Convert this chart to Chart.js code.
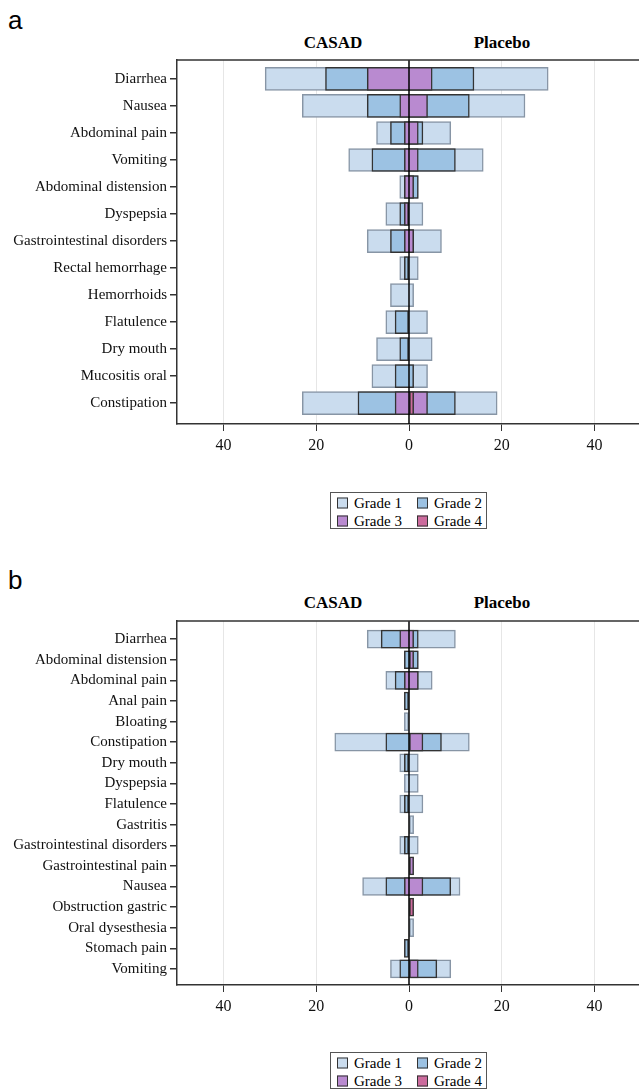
<!DOCTYPE html>
<html lang="en">
<head>
<meta charset="UTF-8">
<title>Gastrointestinal adverse events</title>
<script src="https://cdn.jsdelivr.net/npm/chart.js"></script>
<style>
  html, body { margin: 0; padding: 0; background: #fff; overflow: hidden; }
  .panel { position: absolute; left: 0; width: 642px; height: 560px; }
  .tag { position: absolute; left: 8px; top: 20px; transform: translateY(-50%);
         font: 26px "Liberation Sans", Arial, sans-serif; color: #000; }
  .grp { position: absolute; top: 43px; transform: translate(-50%, -50%);
         font: bold 17px "Liberation Serif", "Times New Roman", serif; color: #000; }
  .chartbox { position: absolute; left: 0; top: 0; width: 642px; height: 470px; }
  .legend { position: absolute; left: 330px; top: 492px; width: 155px; height: 35px;
            border: 1px solid #555; }
  .item { position: absolute; font: 15px "Liberation Serif", "Times New Roman", serif;
          color: #000; transform: translateY(-50%); white-space: nowrap; }
  .sw { position: absolute; width: 9px; height: 9px; border: 1px solid #333;
        transform: translateY(-50%); }
</style>
</head>
<body>

<div class="panel" style="top:0">
  <div class="tag">a</div>
  <div class="grp" style="left:333px">CASAD</div>
  <div class="grp" style="left:502px">Placebo</div>
  <div class="chartbox"><canvas id="chartA"></canvas></div>
  <div class="legend" id="legendA"></div>
</div>

<div class="panel" style="top:560px">
  <div class="tag">b</div>
  <div class="grp" style="left:333px">CASAD</div>
  <div class="grp" style="left:502px">Placebo</div>
  <div class="chartbox" style="height:471px"><canvas id="chartB"></canvas></div>
  <div class="legend" id="legendB"></div>
</div>

<script>
// ---- panel a ----
const aCats = ['Diarrhea', 'Nausea', 'Abdominal pain', 'Vomiting', 'Abdominal distension',
  'Dyspepsia', 'Gastrointestinal disorders', 'Rectal hemorrhage', 'Hemorrhoids',
  'Flatulence', 'Dry mouth', 'Mucositis oral', 'Constipation'];
const aCasadG1 = [31, 23, 7, 13, 2, 5, 9, 2, 4, 5, 7, 8, 23];
const aCasadG2 = [18, 9, 4, 8, 1, 2, 4, 1, 0, 3, 2, 3, 11];
const aCasadG3 = [9, 2, 1, 1, 1, 1, 1, 0, 0, 0, 0, 0, 3];
const aCasadG4 = [0, 0, 0, 0, 0, 0, 0, 0, 0, 0, 0, 0, 0];
const aPlaceboG1 = [30, 25, 9, 16, 2, 3, 7, 2, 1, 4, 5, 4, 19];
const aPlaceboG2 = [14, 13, 3, 10, 2, 0, 1, 0, 0, 0, 0, 1, 10];
const aPlaceboG3 = [5, 4, 2, 2, 1, 0, 1, 0, 0, 0, 0, 0, 4];
const aPlaceboG4 = [0, 0, 0, 0, 0, 0, 0, 0, 0, 0, 0, 0, 1];

// ---- panel b ----
const bCats = ['Diarrhea', 'Abdominal distension', 'Abdominal pain', 'Anal pain', 'Bloating',
  'Constipation', 'Dry mouth', 'Dyspepsia', 'Flatulence', 'Gastritis',
  'Gastrointestinal disorders', 'Gastrointestinal pain', 'Nausea', 'Obstruction gastric',
  'Oral dysesthesia', 'Stomach pain', 'Vomiting'];
const bCasadG1 = [9, 1, 5, 0, 1, 16, 2, 1, 2, 0, 2, 0, 10, 0, 0, 0, 4];
const bCasadG2 = [6, 1, 3, 1, 0, 5, 1, 0, 1, 0, 1, 0, 5, 0, 0, 1, 2];
const bCasadG3 = [2, 0, 1, 0, 0, 0, 0, 0, 0, 0, 0, 0, 1, 0, 0, 0, 0];
const bCasadG4 = [0, 0, 0, 0, 0, 0, 0, 0, 0, 0, 0, 0, 0, 0, 0, 0, 0];
const bPlaceboG1 = [10, 2, 5, 0, 0, 13, 2, 2, 3, 1, 2, 0, 11, 0, 1, 0, 9];
const bPlaceboG2 = [2, 2, 2, 0, 0, 7, 0, 0, 0, 0, 0, 0, 9, 0, 0, 0, 6];
const bPlaceboG3 = [1, 1, 2, 0, 0, 3, 0, 0, 0, 0, 0, 1, 3, 0, 0, 0, 2];
const bPlaceboG4 = [0, 0, 0, 0, 0, 0, 0, 0, 0, 0, 0, 0, 0, 1, 0, 0, 0];

const xTicks = [-40, -20, 0, 20, 40];
const gradeNames = ['Grade 1', 'Grade 2', 'Grade 3', 'Grade 4'];
const gradeFill = ['#cadcee', '#9cc2e3', '#b98ad0', '#cc6b9d'];
const gradeLine = ['#8795a5', '#333333', '#333333', '#333333'];

const serif = '"Liberation Serif", "Times New Roman", serif';

// zero line + top frame, drawn over the bars
const framePlugin = {
  id: 'frame',
  afterDatasetsDraw(chart) {
    const { ctx, chartArea: a, scales: { x } } = chart;
    const x0 = x.getPixelForValue(0);
    ctx.save();
    ctx.strokeStyle = '#000';
    ctx.lineWidth = 1.5;
    ctx.beginPath();
    ctx.moveTo(x0, a.top);
    ctx.lineTo(x0, a.bottom);
    ctx.stroke();
    ctx.strokeStyle = '#333';
    ctx.beginPath();
    ctx.moveTo(a.left, a.top);
    ctx.lineTo(a.right, a.top);
    ctx.lineTo(a.right, a.bottom);
    ctx.stroke();
    ctx.restore();
  }
};

function makeChart(id, cats, casad, placebo, yMin, yMax, barPx, padTop) {
  // grade 1 drawn first (highest order), grade 4 on top
  const datasets = gradeNames.map((name, g) => ({
    label: name,
    order: 3 - g,
    data: cats.map((c, i) => ({ y: i, x: [-casad[g][i], placebo[g][i]] }))
              .filter(d => d.x[0] !== 0 || d.x[1] !== 0),
    backgroundColor: gradeFill[g],
    borderColor: gradeLine[g],
    borderWidth: 1.5,
    borderSkipped: false,
    barThickness: barPx,
    grouped: false
  }));

  return new Chart(document.getElementById(id), {
    type: 'bar',
    data: { datasets },
    options: {
      indexAxis: 'y',
      responsive: true,
      maintainAspectRatio: false,
      animation: false,
      events: [],
      layout: { padding: { top: padTop, right: 1, left: 0, bottom: 0 } },
      plugins: { legend: { display: false }, tooltip: { enabled: false } },
      scales: {
        x: {
          type: 'linear',
          min: -50,
          max: 50,
          afterBuildTicks: s => { s.ticks = xTicks.map(v => ({ value: v })); },
          afterFit: s => { s.height = 46; },
          ticks: {
            callback: v => Math.abs(v),
            color: '#111',
            padding: 5,
            font: { family: serif, size: 16 }
          },
          grid: {
            color: ctx => (ctx.tick && ctx.tick.value === 0) ? 'rgba(0,0,0,0)' : '#e6e6e6',
            tickColor: '#333',
            tickLength: 7,
            lineWidth: 1
          },
          border: { display: true, color: '#333', width: 1.5 }
        },
        y: {
          type: 'linear',
          reverse: true,
          offset: false,
          min: yMin,
          max: yMax,
          afterBuildTicks: s => { s.ticks = cats.map((c, i) => ({ value: i })); },
          afterFit: s => { s.width = 177; },
          ticks: {
            callback: v => cats[v],
            color: '#111',
            padding: 3,
            autoSkip: false,
            font: { family: serif, size: 15 }
          },
          grid: {
            offset: false,
            drawOnChartArea: false,
            tickColor: '#333',
            tickLength: 7,
            lineWidth: 1.5
          },
          border: { display: true, color: '#333', width: 1.5 }
        }
      }
    },
    plugins: [framePlugin]
  });
}

function makeLegend(id) {
  const box = document.getElementById(id);
  const spots = [[6, 10], [86, 10], [6, 28], [86, 28]];
  gradeNames.forEach((name, g) => {
    const sw = document.createElement('div');
    sw.className = 'sw';
    sw.style.left = spots[g][0] + 'px';
    sw.style.top = spots[g][1] + 'px';
    sw.style.background = gradeFill[g];
    box.appendChild(sw);
    const t = document.createElement('div');
    t.className = 'item';
    t.style.left = (spots[g][0] + 17) + 'px';
    t.style.top = spots[g][1] + 'px';
    t.textContent = name;
    box.appendChild(t);
  });
}

makeChart('chartA', aCats,
  [aCasadG1, aCasadG2, aCasadG3, aCasadG4],
  [aPlaceboG1, aPlaceboG2, aPlaceboG3, aPlaceboG4],
  -0.7, 12.77, 23, 60);

makeChart('chartB', bCats,
  [bCasadG1, bCasadG2, bCasadG3, bCasadG4],
  [bPlaceboG1, bPlaceboG2, bPlaceboG3, bPlaceboG4],
  -0.88, 16.78, 18, 61);

makeLegend('legendA');
makeLegend('legendB');
</script>
</body>
</html>
